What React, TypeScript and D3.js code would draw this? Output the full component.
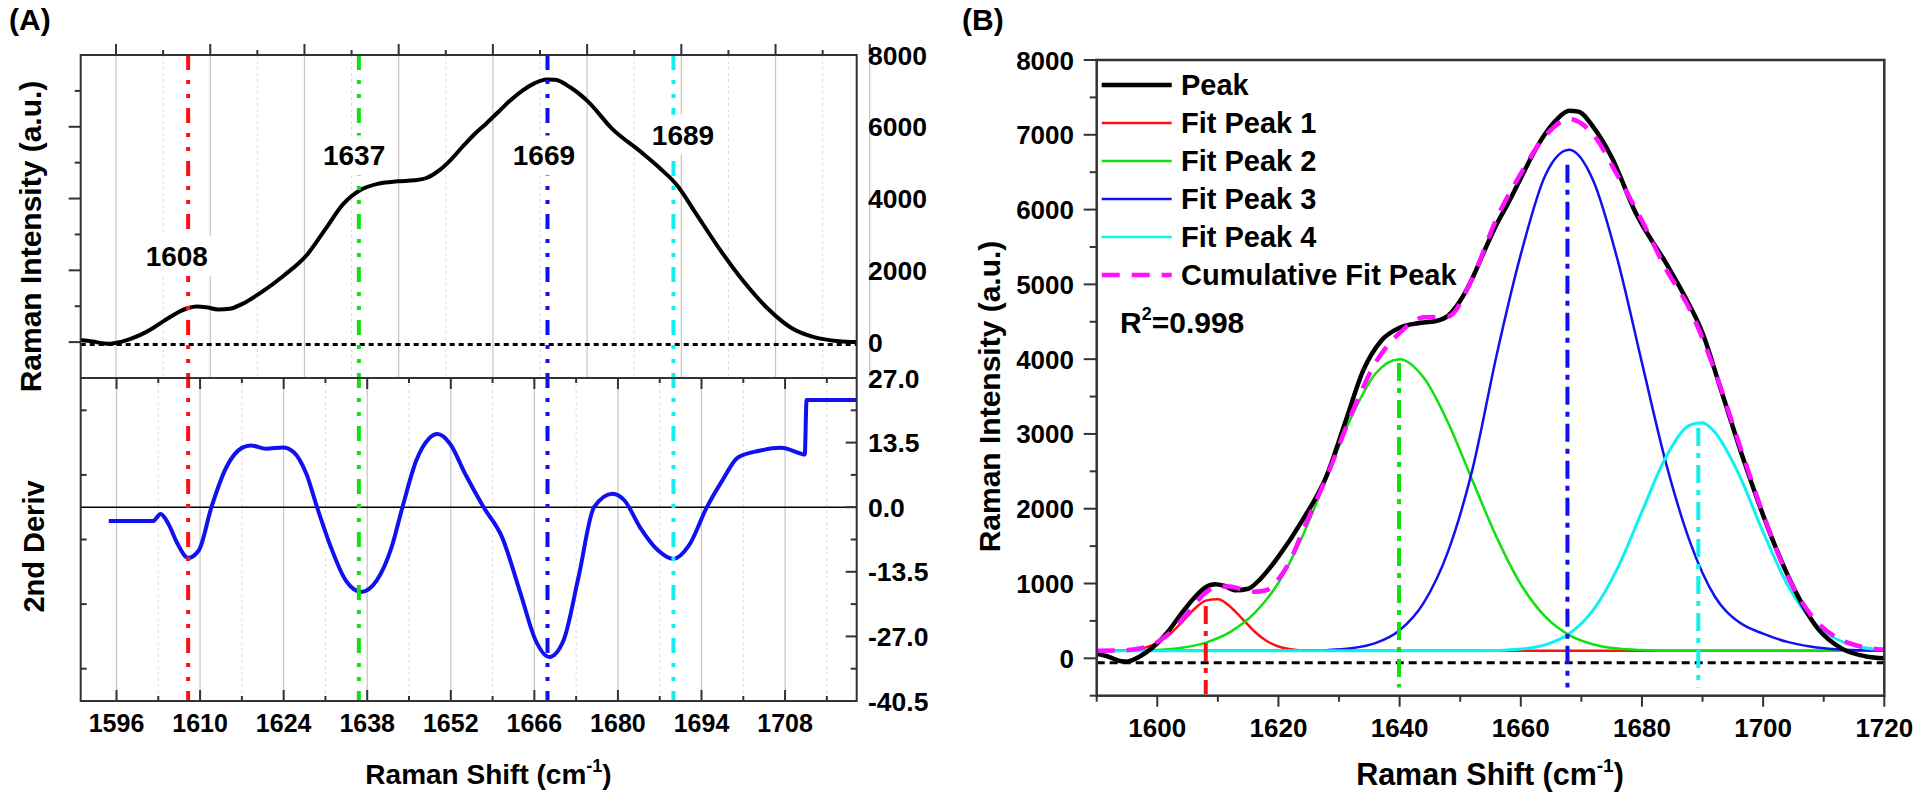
import React from 'react';
import * as d3 from 'd3';

// ---------------- data ----------------
// Measured Raman peak (amide I region)
const peakX = [1590, 1592, 1594, 1595, 1596, 1598, 1600, 1602, 1604, 1606, 1608, 1609.5, 1611, 1613, 1615, 1617, 1620, 1624, 1628, 1631, 1634, 1637, 1640, 1643, 1646, 1648, 1650, 1652, 1654, 1656, 1658, 1660, 1662, 1664, 1666, 1668, 1669.5, 1672, 1675, 1679, 1684, 1687, 1690, 1693, 1697, 1701, 1705, 1709, 1713, 1717, 1720];
const peakY = [60, 20, -40, -45, -20, 70, 200, 380, 600, 800, 950, 990, 970, 910, 930, 1060, 1360, 1850, 2450, 3150, 3850, 4250, 4420, 4480, 4510, 4580, 4780, 5080, 5450, 5800, 6100, 6420, 6740, 7010, 7210, 7320, 7310, 7100, 6700, 5950, 5280, 4850, 4350, 3600, 2600, 1700, 950, 400, 130, 25, 0];

// Second derivative
const derivX = [1594.7, 1602.1, 1603.4, 1604.7, 1606.2, 1608, 1609.8, 1611.9, 1614.4, 1617, 1618.5, 1621.1, 1623.9, 1625.7, 1627.8, 1629.6, 1631.9, 1634.4, 1637, 1639.6, 1642.1, 1643.9, 1646.2, 1648.3, 1649.8, 1651.9, 1654.4, 1657.5, 1660.6, 1663.7, 1666.2, 1668.5, 1670.9, 1673.4, 1676, 1679.1, 1681.1, 1683.7, 1686.7, 1689.3, 1691.9, 1694.9, 1697.5, 1700.1, 1703.7, 1707.3, 1710.9, 1711.3, 1711.6, 1720];
const derivY = [-2.9, -2.9, -1.4, -3.5, -7.6, -10.6, -9.0, 0, 8.35, 12.4, 12.9, 12.2, 12.5, 11.5, 7.0, 0, -8.3, -15.3, -17.7, -15.3, -8.3, 0, 9.7, 14.3, 15.3, 13.2, 7.0, 0, -6.3, -18.1, -27.8, -31.3, -27.8, -14.6, 0, 2.8, 1.4, -4.2, -9.0, -10.8, -8.0, 0, 5.6, 10.4, 11.8, 12.4, 11.1, 11.0, 22.4, 22.4];

// Fitted component peaks (panel B)
const fit1X = [1590, 1594, 1596, 1598, 1600, 1602, 1604, 1606, 1608, 1610, 1612, 1614, 1616, 1618, 1620, 1622, 1624, 1628, 1720];
const fit1Y = [100, 104, 115, 143, 206, 318, 478, 649, 771, 789, 694, 531, 362, 234, 158, 121, 106, 100, 100];
const fit2X = [1590, 1596, 1600, 1604, 1608, 1612, 1616, 1620, 1624, 1628, 1632, 1636, 1640, 1644, 1648, 1652, 1656, 1660, 1664, 1668, 1672, 1676, 1680, 1684, 1690, 1720];
const fit2Y = [100, 104, 112, 140, 210, 350, 600, 1010, 1639, 2426, 3220, 3805, 4000, 3750, 3150, 2380, 1620, 990, 560, 310, 185, 130, 110, 102, 100, 100];
const fit3X = [1590, 1620, 1624, 1628, 1632, 1636, 1640, 1644, 1648, 1652, 1656, 1660, 1664, 1668, 1672, 1676, 1680, 1684, 1688, 1692, 1696, 1700, 1704, 1708, 1712, 1716, 1720];
const fit3Y = [100, 100, 102, 109, 133, 202, 375, 745, 1430, 2520, 4050, 5400, 6450, 6800, 6380, 5320, 3950, 2600, 1540, 830, 484, 330, 220, 155, 122, 108, 102];
const fit4X = [1590, 1650, 1656, 1660, 1664, 1668, 1672, 1676, 1680, 1684, 1688, 1690, 1692, 1696, 1700, 1704, 1708, 1712, 1716, 1720];
const fit4Y = [100, 100, 105, 123, 179, 328, 651, 1210, 1961, 2697, 3120, 3150, 3025, 2460, 1686, 987, 513, 261, 152, 114];
const cumX = [1590, 1594, 1596, 1598, 1600, 1602, 1604, 1606, 1608, 1610, 1612, 1614, 1616, 1618, 1620, 1622, 1624, 1628, 1632, 1636, 1640, 1644, 1648, 1652, 1656, 1660, 1664, 1668, 1672, 1676, 1680, 1684, 1688, 1692, 1696, 1700, 1704, 1708, 1712, 1716, 1720];
const cumY = [100, 105, 117, 148, 216, 336, 510, 703, 880, 960, 960, 920, 890, 910, 1059, 1318, 1700, 2435, 3253, 3950, 4350, 4560, 4570, 5080, 5880, 6480, 6980, 7210, 7000, 6450, 5850, 5200, 4650, 3850, 2880, 1930, 1107, 568, 283, 160, 116];

// Marker lines
const markA = [1608, 1636.6, 1668.2, 1689.3];
const markALabels = ['1608', '1637', '1669', '1689'];
const markALabelX = [1606.1, 1635.8, 1667.6, 1690.9];
const markALabelY = [2400, 5200, 5200, 5780];
const markB = [1608, 1639.9, 1667.7, 1689.3];
const markBTop = [700, 3950, 6600, 3080];
const markBBottom = [-480, -390, -390, -390];
const markColors = ['#ff1010', '#10e010', '#1010f0', '#10f0f0'];

// Ticks
const xTicksA = [1596, 1610, 1624, 1638, 1652, 1666, 1680, 1694, 1708];
const xMinorA = [1603, 1617, 1631, 1645, 1659, 1673, 1687, 1701, 1715];
const yTicksA1 = [0, 2000, 4000, 6000, 8000];
const yMinorA1 = [-1000, 1000, 3000, 5000, 7000];
const yTicksA2 = [27, 13.5, 0, -13.5, -27, -40.5];
const yMinorA2 = [20.25, 6.75, -6.75, -20.25, -33.75];
const xTicksB = [1600, 1620, 1640, 1660, 1680, 1700, 1720];
const xMinorB = [1590, 1610, 1630, 1650, 1670, 1690, 1710];
const yTicksB = [0, 1000, 2000, 3000, 4000, 5000, 6000, 7000, 8000];
const yMinorB = [-500, 500, 1500, 2500, 3500, 4500, 5500, 6500, 7500];

const legendNames = ['Peak', 'Fit Peak 1', 'Fit Peak 2', 'Fit Peak 3', 'Fit Peak 4', 'Cumulative Fit Peak'];
const legendColors = ['#000000', '#ff1010', '#10e010', '#1010f0', '#10f0f0', '#ff10ff'];

const baseA = -70;
const baseB = -60;

// ---------------- layout ----------------
const AL = 80.7, AR = 856.7, AT = 55, AM = 378, AB = 701;
const BL = 1096.7, BR = 1884.3, BT = 60, BB = 695.7;

const xA = d3.scaleLinear().domain([1590, 1720]).range([AL, AR]);
const xTopA = d3.scaleLinear().domain([1590.75, 1706.06]).range([AL, AR]);
const yA1 = d3.scaleLinear().domain([-1000, 8000]).range([AM, AT]);
const yA2 = d3.scaleLinear().domain([-40.5, 27]).range([AB, AM]);
const xB = d3.scaleLinear().domain([1590, 1720]).range([BL, BR]);
const yB = d3.scaleLinear().domain([-500, 8000]).range([BB, BT]);

function path(xs: number[], ys: number[], sx: any, sy: any) {
  const pts = xs.map((x, i) => [x, ys[i]] as [number, number]);
  return d3.line<[number, number]>().curve(d3.curveMonotoneX).x(d => sx(d[0])).y(d => sy(d[1]))(pts) || '';
}

const FONT = "'Liberation Sans', Arial, Helvetica, sans-serif";

export default function App() {
  React.useEffect(() => {
    document.body.style.margin = '0';
  }, []);

  const frame = '#333';

  return (
    <svg width={1920} height={803} style={{ position: 'absolute', left: 0, top: 0, display: 'block', background: '#fff' }}
      fontFamily={FONT} fontWeight="bold">
      <rect x={0} y={0} width={1920} height={803} fill="#fff" />

      {/* ===================== PANEL A ===================== */}
      <text x={9} y={30} fontSize={30}>(A)</text>

      {/* upper grid (own top scale) */}
      {xTicksA.map(v => (
        <line key={'ug' + v} x1={xTopA(v)} x2={xTopA(v)} y1={AT} y2={AM} stroke="#c4c4c4" strokeWidth={1.2} />
      ))}
      {xMinorA.filter(v => xTopA(v) < AR).map(v => (
        <line key={'ugm' + v} x1={xTopA(v)} x2={xTopA(v)} y1={AT} y2={AM} stroke="#dcdcdc" strokeWidth={1} strokeDasharray="3 3" />
      ))}
      {/* lower grid */}
      {xTicksA.map(v => (
        <line key={'lg' + v} x1={xA(v)} x2={xA(v)} y1={AM} y2={AB} stroke="#c4c4c4" strokeWidth={1.2} />
      ))}
      {xMinorA.map(v => (
        <line key={'lgm' + v} x1={xA(v)} x2={xA(v)} y1={AM} y2={AB} stroke="#dcdcdc" strokeWidth={1} strokeDasharray="3 3" />
      ))}

      {/* baseline dotted line (upper) */}
      <line x1={AL} x2={AR} y1={yA1(baseA)} y2={yA1(baseA)} stroke="#000" strokeWidth={3} strokeDasharray="5 4" />
      {/* zero line (lower) */}
      <line x1={AL} x2={AR} y1={yA2(0)} y2={yA2(0)} stroke="#000" strokeWidth={1.5} />

      {/* curves */}
      <path d={path(peakX, peakY, xA, yA1)} fill="none" stroke="#000" strokeWidth={4} />
      <path d={path(derivX, derivY, xA, yA2)} fill="none" stroke="#1010f0" strokeWidth={4} />

      {/* marker lines */}
      {markA.map((v, i) => (
        <line key={'ma' + i} x1={xA(v)} x2={xA(v)} y1={AT} y2={AB} stroke={markColors[i]} strokeWidth={4}
          strokeDasharray="15 10 4 10 4 10" />
      ))}
      {/* marker labels */}
      {markALabels.map((t, i) => (
        <g key={'ml' + i}>
          <rect x={xA(markALabelX[i]) - 36} y={yA1(markALabelY[i]) - 20} width={72} height={40} fill="#fff" />
          <text x={xA(markALabelX[i])} y={yA1(markALabelY[i]) + 10} fontSize={28} textAnchor="middle">{t}</text>
        </g>
      ))}

      {/* frames */}
      <rect x={AL} y={AT} width={AR - AL} height={AB - AT} fill="none" stroke={frame} strokeWidth={2} />
      <line x1={AL} x2={AR} y1={AM} y2={AM} stroke={frame} strokeWidth={2} />

      {/* top axis ticks (outward) */}
      {xTicksA.map(v => (
        <line key={'tt' + v} x1={xTopA(v)} x2={xTopA(v)} y1={AT} y2={AT - 11} stroke={frame} strokeWidth={2} />
      ))}
      {xMinorA.filter(v => xTopA(v) < AR).map(v => (
        <line key={'ttm' + v} x1={xTopA(v)} x2={xTopA(v)} y1={AT} y2={AT - 5} stroke={frame} strokeWidth={2} />
      ))}
      {/* upper left axis ticks (outward) */}
      {yTicksA1.filter(v => v < 8000).map(v => (
        <line key={'ul' + v} x1={AL} x2={AL - 12} y1={yA1(v)} y2={yA1(v)} stroke={frame} strokeWidth={2} />
      ))}
      {yMinorA1.filter(v => v > -1000).map(v => (
        <line key={'ulm' + v} x1={AL} x2={AL - 6} y1={yA1(v)} y2={yA1(v)} stroke={frame} strokeWidth={2} />
      ))}
      {/* lower right axis ticks (inward) */}
      {yTicksA2.filter(v => v < 27 && v > -40.5).map(v => (
        <line key={'lr' + v} x1={AR} x2={AR - 11} y1={yA2(v)} y2={yA2(v)} stroke={frame} strokeWidth={2} />
      ))}
      {yMinorA2.map(v => (
        <line key={'lrm' + v} x1={AR} x2={AR - 6} y1={yA2(v)} y2={yA2(v)} stroke={frame} strokeWidth={2} />
      ))}
      {/* lower left axis ticks (inward) */}
      {yMinorA2.map(v => (
        <line key={'llm' + v} x1={AL} x2={AL + 6} y1={yA2(v)} y2={yA2(v)} stroke={frame} strokeWidth={2} />
      ))}
      {/* bottom axis ticks (inward) and divider ticks */}
      {xTicksA.map(v => (
        <g key={'bt' + v}>
          <line x1={xA(v)} x2={xA(v)} y1={AB} y2={AB - 11} stroke={frame} strokeWidth={2} />
          <line x1={xA(v)} x2={xA(v)} y1={AM} y2={AM + 11} stroke={frame} strokeWidth={2} />
        </g>
      ))}
      {xMinorA.map(v => (
        <g key={'btm' + v}>
          <line x1={xA(v)} x2={xA(v)} y1={AB} y2={AB - 5} stroke={frame} strokeWidth={2} />
          <line x1={xA(v)} x2={xA(v)} y1={AM} y2={AM + 5} stroke={frame} strokeWidth={2} />
        </g>
      ))}

      {/* tick labels */}
      {xTicksA.map(v => (
        <text key={'xl' + v} x={xA(v)} y={732} fontSize={25} textAnchor="middle">{v}</text>
      ))}
      {yTicksA1.map(v => (
        <text key={'yl1' + v} x={868} y={yA1(v) + 9.5} fontSize={26.5}>{v}</text>
      ))}
      {yTicksA2.map(v => (
        <text key={'yl2' + v} x={868} y={yA2(v) + 9.5} fontSize={26.5}>{v.toFixed(1)}</text>
      ))}

      {/* axis titles */}
      <text x={488.5} y={784} fontSize={28} textAnchor="middle">
        Raman Shift (cm<tspan dy={-12} fontSize={18}>-1</tspan><tspan dy={12}>)</tspan>
      </text>
      <text transform="translate(41,236.5) rotate(-90)" fontSize={30} textAnchor="middle">Raman Intensity (a.u.)</text>
      <text transform="translate(44,546.5) rotate(-90)" fontSize={29} textAnchor="middle">2nd Deriv</text>

      {/* ===================== PANEL B ===================== */}
      <text x={962} y={30} fontSize={30}>(B)</text>

      <line x1={BL} x2={BR} y1={yB(baseB)} y2={yB(baseB)} stroke="#000" strokeWidth={3} strokeDasharray="8 5" />

      <path d={path(fit1X, fit1Y, xB, yB)} fill="none" stroke="#ff1010" strokeWidth={2.5} />
      <path d={path(fit2X, fit2Y, xB, yB)} fill="none" stroke="#10e010" strokeWidth={2.5} />
      <path d={path(fit3X, fit3Y, xB, yB)} fill="none" stroke="#1010f0" strokeWidth={2.5} />
      <path d={path(fit4X, fit4Y, xB, yB)} fill="none" stroke="#10f0f0" strokeWidth={3} />
      <path d={path(peakX, peakY, xB, yB)} fill="none" stroke="#000" strokeWidth={4.5} />
      <path d={path(cumX, cumY, xB, yB)} fill="none" stroke="#ff10ff" strokeWidth={4.5} strokeDasharray="18 12" />

      {markB.map((v, i) => (
        <line key={'mb' + i} x1={xB(v)} x2={xB(v)} y1={yB(markBTop[i])} y2={yB(markBBottom[i])} stroke={markColors[i]}
          strokeWidth={4} strokeDasharray="18 7 5 7" />
      ))}

      {/* frame */}
      <rect x={BL} y={BT} width={BR - BL} height={BB - BT} fill="none" stroke={frame} strokeWidth={2.5} />

      {/* ticks */}
      {xTicksB.map(v => (
        <line key={'bx' + v} x1={xB(v)} x2={xB(v)} y1={BB} y2={BB + 11} stroke={frame} strokeWidth={2} />
      ))}
      {xMinorB.map(v => (
        <line key={'bxm' + v} x1={xB(v)} x2={xB(v)} y1={BB} y2={BB + 6} stroke={frame} strokeWidth={2} />
      ))}
      {yTicksB.map(v => (
        <line key={'by' + v} x1={BL} x2={BL - 13} y1={yB(v)} y2={yB(v)} stroke={frame} strokeWidth={2} />
      ))}
      {yMinorB.map(v => (
        <line key={'bym' + v} x1={BL} x2={BL - 7} y1={yB(v)} y2={yB(v)} stroke={frame} strokeWidth={2} />
      ))}
      {xTicksB.map(v => (
        <text key={'bxl' + v} x={xB(v)} y={737} fontSize={26} textAnchor="middle">{v}</text>
      ))}
      {yTicksB.map(v => (
        <text key={'byl' + v} x={1074} y={yB(v) + 9.5} fontSize={26} textAnchor="end">{v}</text>
      ))}

      <text x={1490} y={785} fontSize={30.5} textAnchor="middle">
        Raman Shift (cm<tspan dy={-13} fontSize={19}>-1</tspan><tspan dy={13}>)</tspan>
      </text>
      <text transform="translate(1000,396.5) rotate(-90)" fontSize={30} textAnchor="middle">Raman Intensity (a.u.)</text>

      {/* legend */}
      {legendNames.map((n, i) => {
        const y = 85 + i * 38;
        return (
          <g key={'lg' + n}>
            <line x1={1101.7} x2={1171.7} y1={y} y2={y} stroke={legendColors[i]}
              strokeWidth={i === 0 ? 4.5 : i === 5 ? 4.5 : 2.5} strokeDasharray={i === 5 ? '18 12' : undefined} />
            <text x={1181} y={y + 10} fontSize={29}>{n}</text>
          </g>
        );
      })}
      <text x={1120} y={333} fontSize={30}>
        R<tspan dy={-13} fontSize={18}>2</tspan><tspan dy={13}>=0.998</tspan>
      </text>
    </svg>
  );
}
